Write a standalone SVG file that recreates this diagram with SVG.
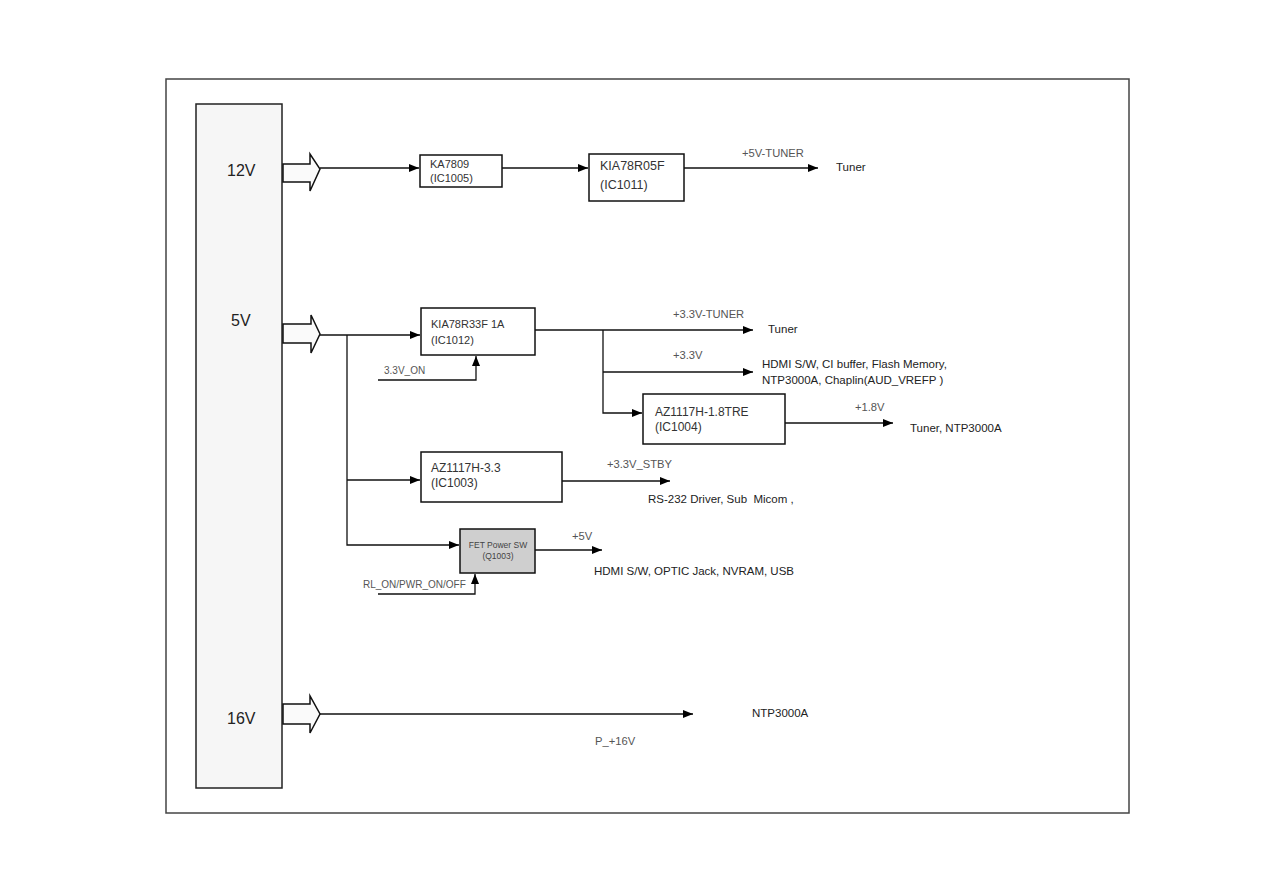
<svg xmlns="http://www.w3.org/2000/svg" width="1263" height="893" viewBox="0 0 1263 893">
<defs>
<marker id="ah" markerWidth="10" markerHeight="8" refX="10" refY="4" orient="auto" markerUnits="userSpaceOnUse">
<path d="M0,0 L10,4 L0,8 Z" fill="#000"/>
</marker>
<style>
.frame{fill:#fff;stroke:#444;stroke-width:1.5}
.rail{fill:#f6f6f6;stroke:#222;stroke-width:1.5}
.blk{fill:#fafafa;stroke:#111;stroke-width:1.5}
.box{fill:#fff;stroke:#111;stroke-width:1.5}
.fet{fill:#cfcfcf;stroke:#111;stroke-width:1.5}
.w{fill:none;stroke:#111;stroke-width:1.3}
.big{font-family:"Liberation Sans",Arial,sans-serif;font-size:16px;fill:#222}
.t{font-family:"Liberation Sans",Arial,sans-serif;font-size:11px;fill:#333}
.t12{font-family:"Liberation Sans",Arial,sans-serif;font-size:12px;fill:#333}
.t2{font-family:"Liberation Sans",Arial,sans-serif;font-size:12.5px;fill:#333}
.lbl{font-family:"Liberation Sans",Arial,sans-serif;font-size:11.2px;fill:#555}
.ctl{font-family:"Liberation Sans",Arial,sans-serif;font-size:10px;fill:#555}
.dst{font-family:"Liberation Sans",Arial,sans-serif;font-size:11.5px;fill:#222}
.sm{font-family:"Liberation Sans",Arial,sans-serif;font-size:8.5px;fill:#444}
</style>
</defs>
<rect x="0" y="0" width="1263" height="893" fill="#fff"/>
<rect class="frame" x="166" y="79" width="963" height="734"/>

<g id="rail">
<rect class="rail" x="196" y="104" width="86" height="684"/>
<text class="big" x="227" y="176">12V</text>
<text class="big" x="231" y="326">5V</text>
<text class="big" x="227" y="724">16V</text>
</g>

<g id="arrow12">
<path class="blk" d="M283,164 H310 V154 L320,169 L310,191 V182 H283 Z"/>
</g>
<g id="arrow5">
<path class="blk" d="M283,324 H311 V315 L320,334 L311,353 V343 H283 Z"/>
</g>
<g id="arrow16">
<path class="blk" d="M283,704 H310 V696 L320,714 L310,733 V724 H283 Z"/>
</g>

<g id="ic1005">
<rect class="box" x="420" y="155" width="82" height="32"/>
<text class="t" x="430" y="168">KA7809</text>
<text class="t" x="430" y="182">(IC1005)</text>
</g>
<g id="ic1011">
<rect class="box" x="589" y="154" width="95" height="47"/>
<text class="t2" x="600" y="170">KIA78R05F</text>
<text class="t2" x="600" y="189">(IC1011)</text>
</g>
<g id="ic1012">
<rect class="box" x="421" y="308" width="114" height="47"/>
<text class="t" x="431" y="328">KIA78R33F 1A</text>
<text class="t" x="431" y="344">(IC1012)</text>
</g>
<g id="ic1004">
<rect class="box" x="643" y="394" width="142" height="50"/>
<text class="t12" x="655" y="416">AZ1117H-1.8TRE</text>
<text class="t12" x="655" y="431">(IC1004)</text>
</g>
<g id="ic1003">
<rect class="box" x="421" y="452" width="141" height="50"/>
<text class="t12" x="431" y="472">AZ1117H-3.3</text>
<text class="t12" x="431" y="487">(IC1003)</text>
</g>
<g id="q1003">
<rect class="fet" x="460" y="529" width="75" height="44"/>
<text class="sm" x="498" y="548" text-anchor="middle">FET Power SW</text>
<text class="sm" x="498" y="559" text-anchor="middle">(Q1003)</text>
</g>

<g id="connectors">
<path class="w" d="M320,168 H419" marker-end="url(#ah)"/>
<path class="w" d="M502,168 H588" marker-end="url(#ah)"/>
<path class="w" d="M684,168 H818" marker-end="url(#ah)"/>

<path class="w" d="M320,335 H420" marker-end="url(#ah)"/>
<path class="w" d="M347,335 V545 H459" marker-end="url(#ah)"/>
<path class="w" d="M347,480 H420" marker-end="url(#ah)"/>
<path class="w" d="M378,380 H476 V356" marker-end="url(#ah)"/>

<path class="w" d="M535,330 H753" marker-end="url(#ah)"/>
<path class="w" d="M603,330 V413 H642" marker-end="url(#ah)"/>
<path class="w" d="M603,372 H753" marker-end="url(#ah)"/>
<path class="w" d="M785,423 H893" marker-end="url(#ah)"/>

<path class="w" d="M562,481 H670" marker-end="url(#ah)"/>
<path class="w" d="M535,550 H602" marker-end="url(#ah)"/>
<path class="w" d="M378,594 H475 V574" marker-end="url(#ah)"/>

<path class="w" d="M320,714 H693" marker-end="url(#ah)"/>
</g>

<g id="labels">
<text class="lbl" x="742" y="157">+5V-TUNER</text>
<text class="dst" x="836" y="171">Tuner</text>
<text class="lbl" x="673" y="318">+3.3V-TUNER</text>
<text class="dst" x="768" y="333">Tuner</text>
<text class="lbl" x="673" y="359">+3.3V</text>
<text class="dst" x="762" y="368">HDMI S/W, CI buffer, Flash Memory,</text>
<text class="dst" x="762" y="384">NTP3000A, Chaplin(AUD_VREFP )</text>
<text class="lbl" x="855" y="411">+1.8V</text>
<text class="dst" x="910" y="432">Tuner, NTP3000A</text>
<text class="ctl" x="384" y="374">3.3V_ON</text>
<text class="lbl" x="607" y="468">+3.3V_STBY</text>
<text class="dst" x="648" y="503">RS-232 Driver, Sub&#160; Micom ,</text>
<text class="lbl" x="572" y="540">+5V</text>
<text class="dst" x="594" y="575">HDMI S/W, OPTIC Jack, NVRAM, USB</text>
<text class="ctl" x="363" y="588">RL_ON/PWR_ON/OFF</text>
<text class="dst" x="752" y="717">NTP3000A</text>
<text class="lbl" x="595" y="745">P_+16V</text>
</g>
</svg>
